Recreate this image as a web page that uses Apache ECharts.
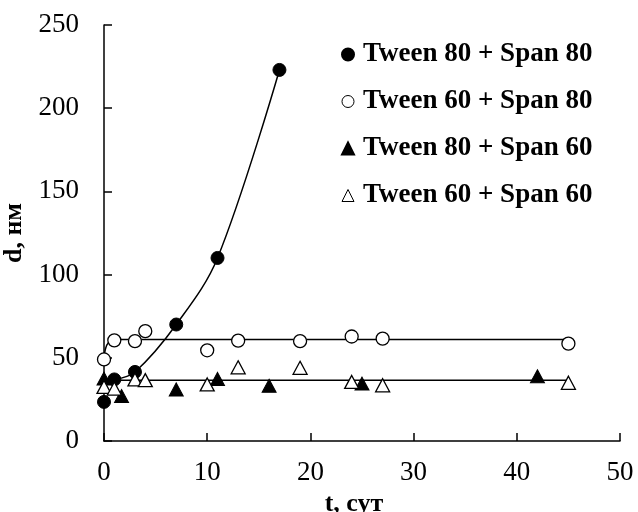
<!DOCTYPE html>
<html>
<head>
<meta charset="utf-8">
<script src="https://cdn.jsdelivr.net/npm/echarts@6/dist/echarts.min.js"></script>
<style>
  html, body { margin: 0; padding: 0; background: #fff; }
  #chart { width: 638px; height: 512px; }
</style>
</head>
<body>
<div id="chart"></div>
<script>
// Tween 80 + Span 80
const t1 = [0, 1, 3, 7, 11, 17];
const d1 = [23.5, 37, 41.5, 70, 110, 223];
// Tween 60 + Span 80
const t2 = [0, 1, 3, 4, 10, 13, 19, 24, 27, 45];
const d2 = [49, 60.5, 60, 66, 54.5, 60.3, 60, 62.8, 61.5, 58.5];
// Tween 80 + Span 60
const t3 = [0, 1.7, 7, 11, 16, 25, 42];
const d3 = [37.5, 27, 31, 37.3, 33.2, 34.5, 38.9];
// Tween 60 + Span 60
const t4 = [0, 1, 3, 4, 10, 13, 19, 24, 27, 45];
const d4 = [32.5, 31.5, 37, 36.6, 34, 44.3, 44, 35.5, 33.5, 35];

// trend lines drawn in the source figure
const fitT1 = [1, 3, 7, 11, 17];
const fitD1 = [37, 41.5, 70, 110, 223];
const fitT2 = [0, 1, 45];
const fitD2 = [49, 61, 61];
const fitT34 = [0, 45];
const fitD34 = [36.5, 36.5];

const names = ["Tween 80 + Span 80", "Tween 60 + Span 80", "Tween 80 + Span 60", "Tween 60 + Span 60"];
const xTicks = [0, 50, 10];   // min, max, step
const yTicks = [0, 250, 50];

const pairs = (xs, ys) => xs.map((x, i) => [x, ys[i]]);
const font = "Liberation Serif";

const filled = { color: "#000", borderColor: "#000", borderWidth: 1, opacity: 1 };
const hollow = { color: "#fff", borderColor: "#000", borderWidth: 1.3, opacity: 1 };

const chart = echarts.init(document.getElementById("chart"), null, { renderer: "canvas" });

const trend = (xs, ys, smooth) => ({
  type: "line",
  data: pairs(xs, ys),
  smooth: smooth,
  showSymbol: false,
  silent: true,
  z: 1,
  lineStyle: { color: "#000", width: 1.5 },
});

const option = {
  animation: false,
  backgroundColor: "#fff",
  grid: { left: 104, right: 18, top: 25, bottom: 71, outerBoundsMode: "none" },
  legend: {
    orient: "vertical",
    left: 336,
    top: 36,
    itemGap: 20,
    itemWidth: 12,
    itemHeight: 12,
    textStyle: {
      fontFamily: font, fontWeight: "bold", fontSize: 27, lineHeight: 27,
      color: "#000", padding: [0, 0, 0, 4],
    },
    data: [
      { name: names[0], icon: "circle" },
      { name: names[1], icon: "circle", itemStyle: { borderWidth: 1 } },
      { name: names[2], icon: "triangle" },
      { name: names[3], icon: "triangle", itemStyle: { borderWidth: 1 } },
    ],
  },
  xAxis: {
    type: "value",
    min: xTicks[0],
    max: xTicks[1],
    interval: xTicks[2],
    name: "t, сут",
    nameLocation: "middle",
    nameGap: 47,
    nameTextStyle: { fontFamily: font, fontWeight: "bold", fontSize: 26, color: "#000", padding: [0, 16, 0, 0] },
    axisLine: { lineStyle: { color: "#000", width: 1.5 } },
    axisTick: { inside: true, length: 8, lineStyle: { color: "#000", width: 1.5 } },
    axisLabel: { fontFamily: font, fontSize: 27, color: "#000", margin: 18 },
    splitLine: { show: false },
  },
  yAxis: {
    type: "value",
    min: yTicks[0],
    max: yTicks[1],
    interval: yTicks[2],
    name: "d, нм",
    nameLocation: "middle",
    nameGap: 67,
    nameTextStyle: { fontFamily: font, fontWeight: "bold", fontSize: 26, color: "#000" },
    axisLine: { lineStyle: { color: "#000", width: 1.5 } },
    axisTick: { inside: true, length: 8, lineStyle: { color: "#000", width: 1.5 } },
    axisLabel: { fontFamily: font, fontSize: 27, color: "#000", margin: 25 },
    splitLine: { show: false },
  },
  series: [
    trend(fitT1, fitD1, 0.35),
    trend(fitT2, fitD2, 0.5),
    trend(fitT34, fitD34, false),
    { name: names[0], type: "scatter", data: pairs(t1, d1), symbol: "circle", symbolSize: 13, itemStyle: filled, z: 3 },
    { name: names[1], type: "scatter", data: pairs(t2, d2), symbol: "circle", symbolSize: 13, itemStyle: hollow, z: 3 },
    { name: names[2], type: "scatter", data: pairs(t3, d3), symbol: "triangle", symbolSize: [14, 13], itemStyle: filled, z: 3 },
    { name: names[3], type: "scatter", data: pairs(t4, d4), symbol: "triangle", symbolSize: [14, 13], itemStyle: hollow, z: 3 },
  ],
};

chart.setOption(option);
</script>
</body>
</html>
